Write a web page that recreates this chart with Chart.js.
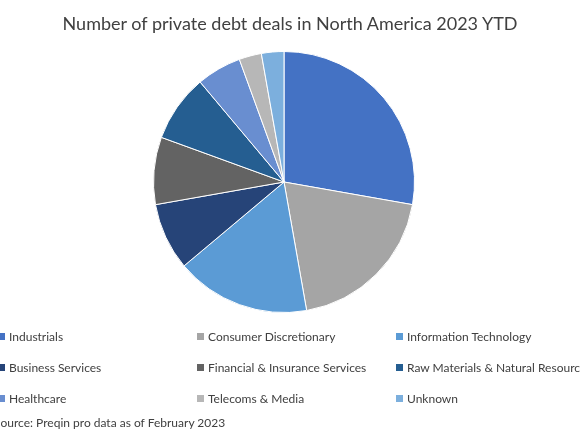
<!DOCTYPE html>
<html>
<head>
<meta charset="utf-8">
<script src="https://cdn.jsdelivr.net/npm/chart.js@4"></script>
<style>
  html, body { margin: 0; padding: 0; background: #fff; }
  #wrap { position: relative; width: 580px; height: 435px; overflow: hidden; font-family: Lato, "Open Sans", sans-serif; color: #404040; }
  #myChart { position: absolute; left: 0; top: 0; }
  #title { position: absolute; left: 0; width: 580px; top: 12px; text-align: center; font-size: 18px; line-height: 22px; white-space: nowrap; }
  .item { position: absolute; font-size: 12px; line-height: 16px; white-space: nowrap; }
  .item i { position: absolute; left: -11px; top: 4px; width: 7px; height: 7px; }
  #source { position: absolute; left: -6px; top: 415px; font-size: 12px; line-height: 16px; white-space: nowrap; }
</style>
</head>
<body>
<div id="wrap">
  <canvas id="myChart" width="580" height="435"></canvas>
  <div id="title">Number of private debt deals in North America 2023 YTD</div>
  <div id="legend"></div>
  <div id="source">Source: Preqin pro data as of February 2023</div>
</div>
<script>
const categories = ['Industrials', 'Consumer Discretionary', 'Information Technology',
  'Business Services', 'Financial & Insurance Services', 'Raw Materials & Natural Resources',
  'Healthcare', 'Telecoms & Media', 'Unknown'];
const deals = [10, 7, 6, 3, 3, 3, 2, 1, 1];
const colors = ['#4472C4', '#A5A5A5', '#5B9BD5', '#264478', '#636363', '#255E91', '#698ED0', '#B7B7B7', '#7CAFDD'];

const ctx = document.getElementById('myChart').getContext('2d');
const chart = new Chart(ctx, {
  type: 'pie',
  data: {
    labels: categories,
    datasets: [{
      data: deals,
      backgroundColor: colors,
      borderColor: '#ffffff',
      borderWidth: 1
    }]
  },
  options: {
    responsive: false,
    animation: false,
    layout: { padding: { top: 51, left: 153, right: 165, bottom: 122 } },
    plugins: {
      legend: { display: false },
      tooltip: { enabled: false },
      title: { display: false }
    }
  }
});

// legend laid out in three columns like the original
const colX = [9, 208, 407];
const rowY = [329, 360, 391];
const legend = document.getElementById('legend');
chart.options.plugins.legend.labels.generateLabels(chart).forEach((it, i) => {
  const d = document.createElement('div');
  d.className = 'item';
  d.style.left = colX[i % 3] + 'px';
  d.style.top = rowY[Math.floor(i / 3)] + 'px';
  d.innerHTML = '<i style="background:' + it.fillStyle + '"></i>';
  d.appendChild(document.createTextNode(it.text));
  legend.appendChild(d);
});
</script>
</body>
</html>
